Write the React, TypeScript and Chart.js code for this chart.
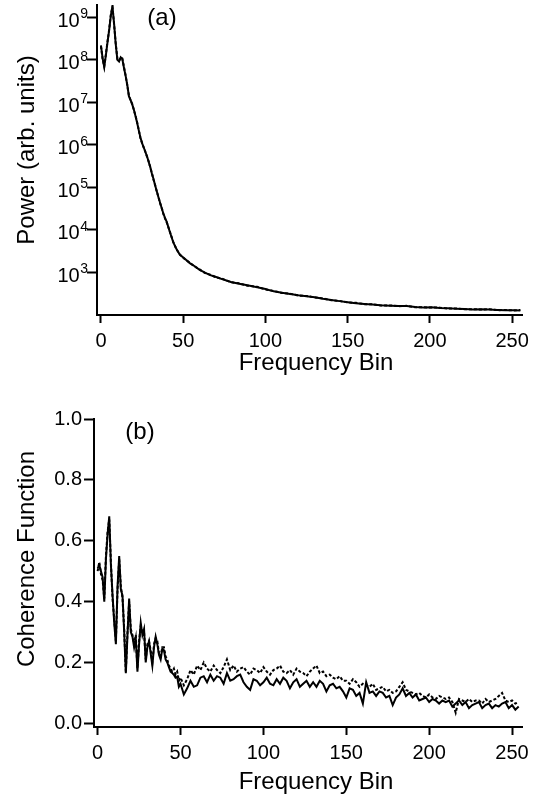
import React, { useEffect, useRef } from "react";
import { Chart, registerables } from "chart.js";

Chart.register(...registerables);

// ---------- Panel (a): power spectrum ----------
const POWER_BINS = [
  0, 1, 2, 3, 4, 5, 6, 7, 8, 9, 10, 11, 12, 13, 14, 15, 16, 17, 18, 19,
  20, 21, 22, 23, 24, 25, 26, 27, 28, 29, 30, 31, 32, 33, 34, 35, 36, 37, 38, 39,
  40, 42, 44, 46, 48, 51, 54, 57, 60, 63, 66, 70, 74, 79, 84, 89, 95,
  100, 105, 110, 115, 120, 125, 130, 135, 140, 145, 150, 155, 160, 165, 170,
  176, 181, 186, 191, 196, 201, 206, 211, 216, 221, 226, 231, 236, 241, 246, 251, 255,
];
const POWER_SOLID = [
  2.2e8, 1.1e8, 6.8e7, 1.3e8, 2.6e8, 5e8, 1.1e9, 1.8e9, 7e8, 2.3e8,
  1.0e8, 9.2e7, 1.15e8, 1.05e8, 6.5e7, 4.2e7, 2.6e7, 1.4e7, 1.15e7, 9e6,
  6.8e6, 4.8e6, 3.3e6, 2.2e6, 1.5e6, 1.1e6, 8.8e5, 6.8e5, 5.4e5, 4e5,
  3e5, 2.1e5, 1.55e5, 1.1e5, 8e4, 5.8e4, 4.3e4, 3.2e4, 2.4e4, 1.9e4,
  1.55e4, 8.7e3, 5.1e3, 3.5e3, 2.6e3, 2.1e3, 1.66e3, 1.4e3, 1.15e3, 1.0e3, 880,
  780, 690, 600, 545, 500, 450,
  410, 360, 335, 312, 290, 275, 262, 240, 225, 212, 200, 190, 182, 176, 170,
  166, 163, 162, 155, 150, 152, 147, 144, 141, 138, 135, 137, 134, 131, 129, 130, 128,
];
const POWER_DASHED = [
  2.1e8, 1.05e8, 7e7, 1.35e8, 2.7e8, 5.2e8, 1.15e9, 1.75e9, 6.8e8, 2.4e8,
  1.05e8, 9.5e7, 1.12e8, 1.08e8, 6.8e7, 4.3e7, 2.5e7, 1.45e7, 1.12e7, 9.2e6,
  6.6e6, 4.9e6, 3.4e6, 2.25e6, 1.45e6, 1.12e6, 8.6e5, 7e5, 5.3e5, 4.1e5,
  2.95e5, 2.15e5, 1.5e5, 1.12e5, 7.8e4, 5.9e4, 4.2e4, 3.25e4, 2.35e4, 1.85e4,
  1.5e4, 8.9e3, 5.2e3, 3.45e3, 2.65e3, 2.05e3, 1.7e3, 1.38e3, 1.18e3, 980, 900,
  770, 705, 590, 555, 490, 460,
  400, 368, 330, 318, 285, 280, 258, 245, 222, 215, 198, 193, 180, 178, 168,
  168, 161, 164, 153, 152, 150, 149, 142, 143, 136, 137, 135, 136, 130, 131, 128, 131,
];
const POWER_TICKS = [1e3, 1e4, 1e5, 1e6, 1e7, 1e8, 1e9];

// ---------- Panel (b): coherence function ----------
const COH_BINS = [
  0, 1, 2, 3, 4, 5, 6, 7, 8, 9, 10, 11, 12, 13, 14, 15, 16, 17, 18, 19,
  20, 21, 22, 23, 24, 25, 26, 27, 28, 29, 30, 31, 32, 33, 34, 35, 36, 37, 38, 39,
  40, 41, 42, 43, 44, 45, 46, 47, 48, 49,
  50, 52, 54, 56, 58, 60, 62, 64, 66, 68,
  70, 72, 74, 76, 78, 80, 82, 84, 86, 88,
  90, 92, 94, 96, 98, 100, 102, 104, 106, 108,
  110, 112, 114, 116, 118, 120, 122, 124, 126, 128,
  130, 132, 134, 136, 138, 140, 142, 144, 146, 148,
  150, 152, 154, 156, 158, 160, 162, 164, 166, 168,
  170, 172, 174, 176, 178, 180, 182, 184, 186, 188,
  190, 192, 194, 196, 198, 200, 202, 204, 206, 208,
  210, 212, 214, 216, 218, 220, 222, 224, 226, 228,
  230, 232, 234, 236, 238, 240, 242, 244, 246, 248,
  250, 252, 254,
];
const COH_SOLID = [
  0.51, 0.52, 0.50, 0.48, 0.40, 0.54, 0.62, 0.68, 0.52, 0.42,
  0.33, 0.26, 0.45, 0.55, 0.44, 0.42, 0.30, 0.165, 0.29, 0.41,
  0.30, 0.285, 0.25, 0.28, 0.17, 0.26, 0.33, 0.29, 0.31, 0.20,
  0.25, 0.27, 0.23, 0.19, 0.25, 0.285, 0.26, 0.225, 0.21, 0.245,
  0.24, 0.21, 0.20, 0.185, 0.17, 0.165, 0.16, 0.15, 0.153, 0.12,
  0.13, 0.095, 0.115, 0.14, 0.12, 0.125, 0.15, 0.155, 0.135, 0.16,
  0.14, 0.155, 0.15, 0.13, 0.165, 0.14, 0.145, 0.155, 0.16, 0.135,
  0.12, 0.11, 0.145, 0.14, 0.125, 0.135, 0.15, 0.13, 0.125, 0.145,
  0.13, 0.15, 0.14, 0.115, 0.135, 0.145, 0.12, 0.13, 0.14, 0.12,
  0.135, 0.12, 0.14, 0.13, 0.105, 0.125, 0.13, 0.115, 0.12, 0.105,
  0.085, 0.115, 0.11, 0.09, 0.1, 0.065, 0.135, 0.1, 0.105, 0.09,
  0.105, 0.1, 0.085, 0.09, 0.06, 0.085, 0.095, 0.115, 0.09, 0.1,
  0.085, 0.095, 0.075, 0.08, 0.085, 0.07, 0.08, 0.075, 0.065, 0.075,
  0.07, 0.075, 0.055, 0.065, 0.075, 0.06, 0.07, 0.05, 0.06, 0.065,
  0.07, 0.05, 0.06, 0.065, 0.05, 0.06, 0.055, 0.065, 0.07, 0.05,
  0.06, 0.045, 0.055,
];
const COH_DASHED = [
  0.50, 0.53, 0.49, 0.47, 0.41, 0.55, 0.63, 0.67, 0.53, 0.41,
  0.34, 0.27, 0.44, 0.54, 0.45, 0.41, 0.31, 0.17, 0.30, 0.40,
  0.31, 0.29, 0.26, 0.29, 0.18, 0.27, 0.32, 0.30, 0.30, 0.21,
  0.26, 0.27, 0.24, 0.20, 0.26, 0.28, 0.27, 0.23, 0.22, 0.25,
  0.25, 0.22, 0.21, 0.19, 0.18, 0.17, 0.18, 0.16, 0.17, 0.14,
  0.15, 0.125, 0.145, 0.175, 0.16, 0.19, 0.175, 0.2, 0.18, 0.17,
  0.19, 0.175, 0.165, 0.185, 0.21, 0.175, 0.19, 0.17, 0.18, 0.185,
  0.17, 0.16, 0.18, 0.175, 0.165, 0.185, 0.17, 0.16, 0.175, 0.18,
  0.19, 0.17, 0.165, 0.175, 0.16, 0.18, 0.17, 0.165, 0.155, 0.17,
  0.18, 0.19, 0.165, 0.17, 0.155, 0.16, 0.15, 0.145, 0.155, 0.14,
  0.14, 0.13, 0.145, 0.135, 0.12, 0.13, 0.125, 0.12, 0.13, 0.11,
  0.115, 0.12, 0.105, 0.11, 0.1, 0.105, 0.12, 0.135, 0.11, 0.105,
  0.1, 0.095, 0.1, 0.09, 0.085, 0.095, 0.085, 0.08, 0.09, 0.085,
  0.08, 0.085, 0.07, 0.035, 0.08, 0.075, 0.07, 0.08, 0.07, 0.075,
  0.075, 0.065, 0.08, 0.07, 0.075, 0.08, 0.09, 0.1, 0.075, 0.07,
  0.075, 0.065, 0.07,
];
const COH_TICKS = [0, 0.2, 0.4, 0.6, 0.8, 1.0];
const BIN_TICKS = [0, 50, 100, 150, 200, 250];

const X_TITLE = "Frequency Bin";
const Y_TITLE_A = "Power (arb. units)";
const Y_TITLE_B = "Coherence Function";

const FONT = "'Liberation Sans', Arial, Helvetica, sans-serif";

const zip = (xs: number[], ys: number[]) => xs.map((x, i) => ({ x, y: ys[i] }));

type TextItem = { text: string; x: number; y: number; size: number; rotate?: boolean };

const textPlugin = (items: TextItem[]) => ({
  id: "extraTexts",
  afterDraw(chart: any) {
    const ctx = chart.ctx as CanvasRenderingContext2D;
    ctx.save();
    ctx.fillStyle = "#000";
    ctx.textAlign = "center";
    ctx.textBaseline = "middle";
    for (const it of items) {
      ctx.save();
      ctx.font = `${it.size}px ${FONT}`;
      ctx.translate(it.x, it.y);
      if (it.rotate) ctx.rotate(-Math.PI / 2);
      ctx.fillText(it.text, 0, 0);
      ctx.restore();
    }
    ctx.restore();
  },
});

// Draws "10" with a raised exponent at each log tick of the y scale
const powerLabelPlugin = {
  id: "powerLabels",
  afterDraw(chart: any) {
    const scale = chart.scales.y;
    const ctx = chart.ctx as CanvasRenderingContext2D;
    ctx.save();
    ctx.fillStyle = "#000";
    ctx.textBaseline = "middle";
    ctx.textAlign = "right";
    const right = scale.right - 9;
    for (const v of POWER_TICKS) {
      const py = scale.getPixelForValue(v);
      const exp = String(Math.round(Math.log10(v)));
      ctx.font = `14px ${FONT}`;
      const ew = ctx.measureText(exp).width;
      ctx.fillText(exp, right, py - 3);
      ctx.font = `20px ${FONT}`;
      ctx.fillText("10", right - ew - 0.5, py + 4);
    }
    ctx.restore();
  },
};

const fixBox = (w?: number, h?: number) => (scale: any) => {
  if (w !== undefined) scale.width = w;
  if (h !== undefined) scale.height = h;
  scale.paddingTop = 0;
  scale.paddingBottom = 0;
  scale.paddingLeft = 0;
  scale.paddingRight = 0;
};

const axisCommon = (tickLength: number) => ({
  border: { display: true, color: "#000", width: 2 },
  grid: {
    display: true,
    drawOnChartArea: false,
    drawTicks: true,
    tickLength,
    tickWidth: 2,
    tickColor: "#000",
    color: "#000",
  },
});

const lineDs = (data: { x: number; y: number }[], dashed: boolean) => ({
  data,
  borderColor: "#000",
  backgroundColor: "#000",
  borderWidth: 2,
  borderDash: dashed ? [3, 2] : [],
  pointRadius: 0,
  tension: 0,
  fill: false,
});

export default function App() {
  const refA = useRef<HTMLCanvasElement>(null);
  const refB = useRef<HTMLCanvasElement>(null);

  useEffect(() => {
    const tickFont = { family: FONT, size: 20 };

    const chartA = new Chart(refA.current!, {
      type: "line",
      data: {
        datasets: [
          lineDs(zip(POWER_BINS, POWER_DASHED), true),
          lineDs(zip(POWER_BINS, POWER_SOLID), false),
        ],
      },
      options: {
        responsive: false,
        animation: false,
        events: [],
        layout: { padding: { left: 0, right: 22, top: 5, bottom: 0 } },
        plugins: { legend: { display: false }, tooltip: { enabled: false } },
        scales: {
          x: {
            type: "linear",
            min: -2.4,
            max: 256,
            ...axisCommon(8),
            ticks: { color: "#000", font: tickFont, padding: 6, maxRotation: 0 },
            afterBuildTicks: (s: any) => {
              s.ticks = BIN_TICKS.map((v) => ({ value: v }));
            },
            afterFit: fixBox(undefined, 65),
          },
          y: {
            type: "logarithmic",
            min: 100,
            max: 1.95e9,
            ...axisCommon(10),
            ticks: { display: false },
            afterBuildTicks: (s: any) => {
              s.ticks = POWER_TICKS.map((v) => ({ value: v }));
            },
            afterFit: fixBox(97, undefined),
          },
        },
      },
      plugins: [
        powerLabelPlugin,
        textPlugin([
          { text: "(a)", x: 162, y: 18, size: 24 },
          { text: Y_TITLE_A, x: 27, y: 150, size: 24, rotate: true },
          { text: X_TITLE, x: 316, y: 363, size: 24 },
        ]),
      ],
    } as any);

    const chartB = new Chart(refB.current!, {
      type: "line",
      data: {
        datasets: [
          lineDs(zip(COH_BINS, COH_DASHED), true),
          lineDs(zip(COH_BINS, COH_SOLID), false),
        ],
      },
      options: {
        responsive: false,
        animation: false,
        events: [],
        layout: { padding: { left: 0, right: 22, top: 39, bottom: 0 } },
        plugins: { legend: { display: false }, tooltip: { enabled: false } },
        scales: {
          x: {
            type: "linear",
            min: -2.2,
            max: 256,
            ...axisCommon(8),
            ticks: { color: "#000", font: tickFont, padding: 6, maxRotation: 0 },
            afterBuildTicks: (s: any) => {
              s.ticks = BIN_TICKS.map((v) => ({ value: v }));
            },
            afterFit: fixBox(undefined, 73),
          },
          y: {
            type: "linear",
            min: -0.012,
            max: 1.0,
            ...axisCommon(10),
            ticks: {
              color: "#000",
              font: tickFont,
              padding: 2,
              callback: (v: any) => Number(v).toFixed(1),
            },
            afterBuildTicks: (s: any) => {
              s.ticks = COH_TICKS.map((v) => ({ value: v }));
            },
            afterFit: fixBox(94, undefined),
          },
        },
      },
      plugins: [
        textPlugin([
          { text: "(b)", x: 140, y: 52, size: 24 },
          { text: Y_TITLE_B, x: 27, y: 179, size: 24, rotate: true },
          { text: X_TITLE, x: 316, y: 402, size: 24 },
        ]),
      ],
    } as any);

    return () => {
      chartA.destroy();
      chartB.destroy();
    };
  }, []);

  return (
    <div style={{ position: "absolute", left: 0, top: 0, width: 544, height: 800, background: "#fff" }}>
      <canvas ref={refA} width={544} height={380} style={{ position: "absolute", left: 0, top: 0 }} />
      <canvas ref={refB} width={544} height={420} style={{ position: "absolute", left: 0, top: 380 }} />
    </div>
  );
}
